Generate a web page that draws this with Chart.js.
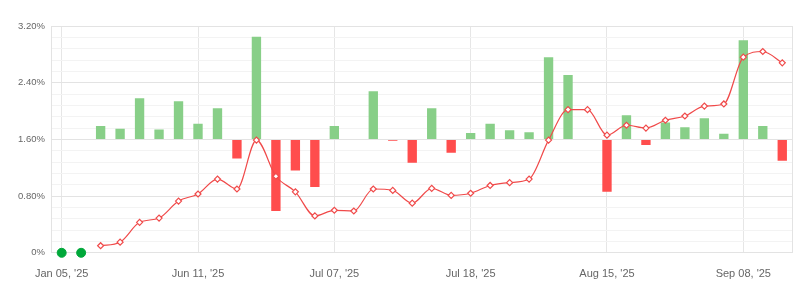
<!DOCTYPE html>
<html>
<head>
<meta charset="utf-8">
<script src="https://cdn.jsdelivr.net/npm/chart.js@4.4.1/dist/chart.umd.min.js"></script>
<style>
  html, body { margin: 0; padding: 0; background: #fff; }
  #wrap { width: 801px; height: 296px; }
</style>
</head>
<body>
<div id="wrap"><canvas id="main-chart"></canvas></div>
<script>
// tanggal kategori (hanya tiap ke-7 yang ditampilkan)
const dates = [
  "Jan 05, '25", "Feb 09, '25", "Mar 10, '25", "Apr 07, '25", "May 05, '25", "May 20, '25", "Jun 02, '25",
  "Jun 11, '25", "Jun 13, '25", "Jun 16, '25", "Jun 19, '25", "Jun 23, '25", "Jun 26, '25", "Jul 01, '25",
  "Jul 07, '25", "Jul 08, '25", "Jul 09, '25", "Jul 10, '25", "Jul 14, '25", "Jul 15, '25", "Jul 16, '25",
  "Jul 18, '25", "Jul 22, '25", "Jul 25, '25", "Jul 29, '25", "Aug 01, '25", "Aug 05, '25", "Aug 08, '25",
  "Aug 15, '25", "Aug 18, '25", "Aug 21, '25", "Aug 25, '25", "Aug 28, '25", "Sep 01, '25", "Sep 04, '25",
  "Sep 08, '25", "Sep 11, '25", "Sep 15, '25"
];

// nilai kumulatif (%)
const cumulative = [
  null, null, 0.10, 0.15, 0.43, 0.49, 0.73, 0.83, 1.04, 0.90, 1.59, 1.08, 0.86,
  0.52, 0.60, 0.59, 0.90, 0.88, 0.70, 0.91, 0.81, 0.84, 0.95, 0.99, 1.04,
  1.59, 2.02, 2.02, 1.66, 1.80, 1.76, 1.87, 1.93, 2.07, 2.10, 2.76, 2.84, 2.68
];

// perubahan harian (%), batang naik/turun dari garis 1.60%
const daily = [
  null, null, 0.19, 0.15, 0.58, 0.14, 0.54, 0.22, 0.44, -0.27, 1.45, -1.01, -0.44,
  -0.67, 0.19, null, 0.68, -0.02, -0.33, 0.44, -0.19, 0.09, 0.22, 0.13, 0.10,
  1.16, 0.91, null, -0.74, 0.34, -0.08, 0.24, 0.17, 0.30, 0.08, 1.40, 0.19, -0.30
];

// titik awal (hijau)
const startDots = [0, 0];

const yTicks = [];
for (let i = 0; i <= 20; i++) yTicks.push(+(i * 0.16).toFixed(2));

const ctx = document.getElementById('main-chart').getContext('2d');
new Chart(ctx, {
  data: {
    labels: dates,
    datasets: [
      {
        type: 'line',
        data: cumulative,
        borderColor: '#f04a4a',
        borderWidth: 1.2,
        cubicInterpolationMode: 'monotone',
        pointStyle: 'rectRot',
        pointRadius: 3,
        pointBorderWidth: 1.2,
        pointBackgroundColor: '#fff',
        pointBorderColor: '#f04a4a',
        yAxisID: 'y',
        clip: false,
        order: 0
      },
      {
        type: 'line',
        data: startDots,
        showLine: false,
        pointRadius: 4.5,
        pointBackgroundColor: '#00a83a',
        pointBorderColor: '#00a83a',
        yAxisID: 'y',
        clip: false,
        order: 0
      },
      {
        type: 'bar',
        data: daily,
        backgroundColor: daily.map(v => v >= 0 ? '#88cf88' : '#ff4d4d'),
        barPercentage: 0.48,
        categoryPercentage: 1,
        yAxisID: 'y2',
        order: 1
      }
    ]
  },
  options: {
    responsive: true,
    maintainAspectRatio: false,
    animation: false,
    layout: { padding: { top: 26, right: 9, bottom: 0, left: 11 } },
    plugins: { legend: { display: false }, tooltip: { enabled: false } },
    scales: {
      x: {
        offset: true,
        grid: { offset: false, color: '#e6e6e6', drawTicks: false },
        border: { display: false },
        ticks: {
          autoSkip: false,
          maxRotation: 0,
          padding: 15,
          color: '#666',
          font: { family: 'Liberation Sans, Arial, sans-serif', size: 11 },
          callback: function (v, i) { return i % 7 === 0 ? dates[i] : null; }
        }
      },
      y: {
        min: 0,
        max: 3.2,
        afterBuildTicks: function (scale) { scale.ticks = yTicks.map(v => ({ value: v })); },
        grid: {
          drawTicks: false,
          color: c => (c.index % 5 === 0 ? '#e3e3e3' : '#f3f3f3')
        },
        border: { display: true, color: '#e3e3e3' },
        ticks: {
          autoSkip: false,
          padding: 7,
          color: '#666',
          font: { family: 'Liberation Sans, Arial, sans-serif', size: 9.5 },
          callback: function (v, i) {
            if (i % 5 !== 0) return '';
            return v === 0 ? '0%' : v.toFixed(2) + '%';
          }
        }
      },
      y2: {
        position: 'right',
        min: -1.6,
        max: 1.6,
        grid: { drawOnChartArea: false, drawTicks: false },
        border: { display: true, color: '#e3e3e3' },
        ticks: { display: false }
      }
    }
  }
});
</script>
</body>
</html>
